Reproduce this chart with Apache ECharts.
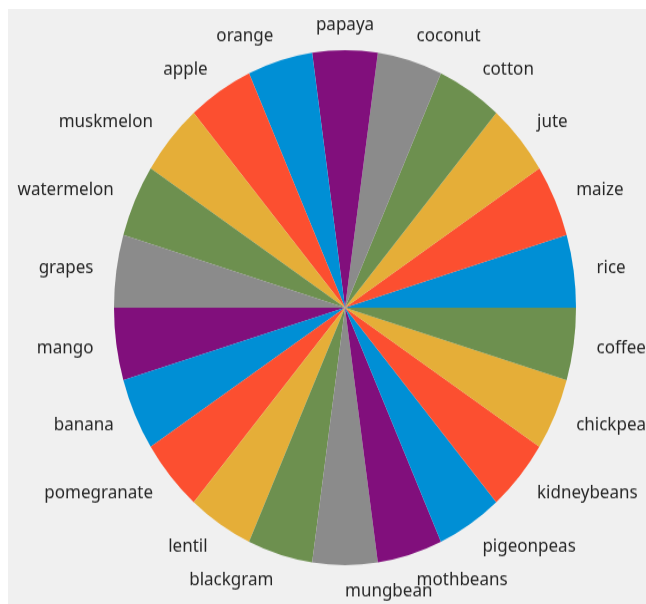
<!DOCTYPE html>
<html>
<head>
<meta charset="utf-8">
<script src="https://cdn.jsdelivr.net/npm/echarts@6/dist/echarts.min.js"></script>
<style>
html,body{margin:0;padding:0;background:#ffffff;width:646px;height:604px;overflow:hidden;}
#bg{position:absolute;left:8px;top:9px;width:638px;height:595px;background:#f0f0f0;}
#chart{position:absolute;left:0;top:0;width:646px;height:580px;transform:scaleY(1.1147);transform-origin:0 0;}
</style>
</head>
<body>
<div id="bg"></div>
<div id="chart"></div>
<script>
const categories = ['rice','maize','jute','cotton','coconut','papaya','orange','apple','muskmelon','watermelon','grapes','mango','banana','pomegranate','lentil','blackgram','mungbean','mothbeans','pigeonpeas','kidneybeans','chickpea','coffee'];
const counts = [100,100,100,100,100,100,100,100,100,100,100,100,100,100,100,100,100,100,100,100,100,100];
const palette = ['#008fd5','#fc4f30','#e5ae38','#6d904f','#8b8b8b','#810f7c'];

const chart = echarts.init(document.getElementById('chart'), null, {renderer:'canvas'});
chart.setOption({
  animation: false,
  color: palette,
  series: [{
    type: 'pie',
    center: [345, 275.9],
    radius: 231,
    startAngle: 0,
    clockwise: false,
    avoidLabelOverlap: false,
    minShowLabelAngle: 0,
    itemStyle: {borderWidth: 0},
    label: {
      show: true,
      position: 'outside',
      fontFamily: 'Noto Sans',
      fontSize: 17,
      color: '#262626',
      distanceToLabelLine: 0
    },
    labelLine: {show: true, length: 23.1, length2: 0, lineStyle: {opacity: 0}},
    labelLayout: function (p) {
      const name = categories[p.dataIndex];
      if (name === 'papaya') return {align: 'center', hideOverlap: false};
      if (name === 'mungbean') return {align: 'left', hideOverlap: false};
      return {hideOverlap: false};
    },
    emphasis: {disabled: true},
    data: categories.map((c, i) => ({name: c, value: counts[i]}))
  }]
});
</script>
</body>
</html>
